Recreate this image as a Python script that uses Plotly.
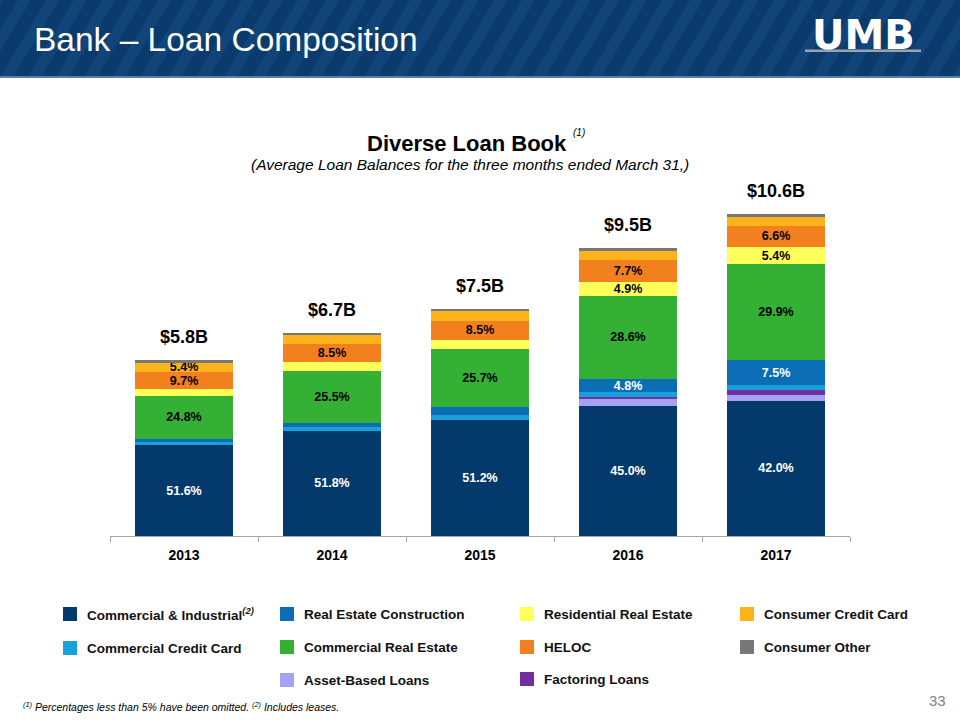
import plotly.graph_objects as go

# ---------------- data ----------------
years = ["2013", "2014", "2015", "2016", "2017"]
totals = [5.8, 6.7, 7.5, 9.5, 10.6]              # $B, average loan balances
total_labels = ["$5.8B", "$6.7B", "$7.5B", "$9.5B", "$10.6B"]

# share of total (%) by loan type, stacked bottom -> top
ci_pct = [51.6, 51.8, 51.2, 45.0, 42.0]            # Commercial & Industrial
abl_pct = [0.0, 0.0, 0.0, 2.4, 2.0]                # Asset-Based Loans
factoring_pct = [0.0, 0.0, 0.0, 1.0, 1.5]          # Factoring Loans
comm_cc_pct = [2.3, 2.0, 1.9, 1.4, 1.6]            # Commercial Credit Card
rec_pct = [1.1, 2.0, 3.4, 4.8, 7.5]                # Real Estate Construction
cre_pct = [24.8, 25.5, 25.7, 28.6, 29.9]           # Commercial Real Estate
res_pct = [3.7, 4.5, 4.0, 4.9, 5.4]                # Residential Real Estate
heloc_pct = [9.7, 8.5, 8.5, 7.7, 6.6]              # HELOC
cons_cc_pct = [5.4, 4.4, 4.2, 3.2, 2.7]            # Consumer Credit Card
cons_other_pct = [1.4, 1.3, 1.1, 1.0, 0.8]         # Consumer Other

LABEL_MIN = 4.8   # smaller shares are not labelled

series = [
    ("Commercial & Industrial", ci_pct, "#033A6B", "white"),
    ("Asset-Based Loans", abl_pct, "#A6A1F5", "black"),
    ("Factoring Loans", factoring_pct, "#7030A0", "white"),
    ("Commercial Credit Card", comm_cc_pct, "#199FD9", "black"),
    ("Real Estate Construction", rec_pct, "#0B6DB6", "white"),
    ("Commercial Real Estate", cre_pct, "#34B034", "black"),
    ("Residential Real Estate", res_pct, "#FFFF5A", "black"),
    ("HELOC", heloc_pct, "#F3801F", "black"),
    ("Consumer Credit Card", cons_cc_pct, "#FDB41A", "black"),
    ("Consumer Other", cons_other_pct, "#777777", "black"),
]

# ---------------- geometry helpers ----------------
W, H = 960, 720
ML, MR, MT, MB = 110, 110, 172, 184
PW, PH = W - ML - MR, H - MT - MB
FONT = "Liberation Sans, Arial, sans-serif"


def fx(x):
    return (x - ML) / PW


def fy(y):
    return (H - MB - y) / PH


fig = go.Figure()

for name, pct, color, tcolor in series:
    fig.add_trace(go.Bar(
        x=years,
        y=[p / 100.0 * t for p, t in zip(pct, totals)],
        name=name,
        marker=dict(color=color, line=dict(width=0)),
        text=[f"{p:.1f}%" if p >= LABEL_MIN else "" for p in pct],
        textposition="inside",
        insidetextanchor="middle",
        textangle=0,
        textfont=dict(family=FONT, size=12.5, color=tcolor, weight="bold"),
        hoverinfo="skip",
        showlegend=False,
    ))

annotations = []
for i, (tot, lab) in enumerate(zip(totals, total_labels)):
    annotations.append(dict(
        x=i, y=tot, xref="x", yref="y", text=lab, showarrow=False,
        yanchor="bottom", yshift=11,
        font=dict(family=FONT, size=18, color="black", weight="bold"),
    ))

shapes = []
# header band with diagonal stripes
shapes.append(dict(type="rect", xref="paper", yref="paper",
                   x0=fx(-5), x1=fx(W + 5), y0=fy(77), y1=fy(-2),
                   fillcolor="#0A3B6C", line=dict(width=0), layer="below"))
for k in range(-4, 40):
    xb = k * 28
    path = (f"M {fx(xb)},{fy(77)} L {fx(xb + 13)},{fy(77)} "
            f"L {fx(xb + 13 + 46)},{fy(0)} L {fx(xb + 46)},{fy(0)} Z")
    shapes.append(dict(type="path", xref="paper", yref="paper", path=path,
                       fillcolor="#14497D", opacity=0.7, line=dict(width=0),
                       layer="below"))
shapes.append(dict(type="line", xref="paper", yref="paper",
                   x0=fx(0), x1=fx(W), y0=fy(77), y1=fy(77),
                   line=dict(color="#5A7FA6", width=2)))
# logo underline
shapes.append(dict(type="rect", xref="paper", yref="paper",
                   x0=fx(805), x1=fx(921), y0=fy(52), y1=fy(49.5),
                   fillcolor="#9AA4AF", line=dict(width=0)))

# header texts
annotations.append(dict(xref="paper", yref="paper", x=fx(32), y=fy(40),
                        xanchor="left", yanchor="middle", showarrow=False,
                        text="Bank – Loan Composition",
                        font=dict(family=FONT, size=33.5, color="white")))
annotations.append(dict(xref="paper", yref="paper", x=fx(863), y=fy(35),
                        xanchor="center", yanchor="middle", showarrow=False,
                        text="UMB",
                        font=dict(family="DejaVu Sans", size=40, color="white",
                                  weight="bold")))

# chart titles
annotations.append(dict(xref="paper", yref="paper", x=fx(467), y=fy(143),
                        xanchor="center", yanchor="middle", showarrow=False,
                        text="Diverse Loan Book",
                        font=dict(family=FONT, size=22, color="black", weight="bold")))
annotations.append(dict(xref="paper", yref="paper", x=fx(571), y=fy(133),
                        xanchor="left", yanchor="middle", showarrow=False,
                        text="<i>(1)</i>",
                        font=dict(family=FONT, size=10, color="black")))
annotations.append(dict(xref="paper", yref="paper", x=fx(470), y=fy(164),
                        xanchor="center", yanchor="middle", showarrow=False,
                        text="<i>(Average Loan Balances for the three months ended March 31,)</i>",
                        font=dict(family=FONT, size=15.5, color="black")))

# custom legend (square + label), positions in pixels
legend_layout = {
    "Commercial & Industrial": (70, 614, "Commercial & Industrial<sup><i>(2)</i></sup>"),
    "Commercial Credit Card": (70, 648, "Commercial Credit Card"),
    "Real Estate Construction": (287, 614, "Real Estate Construction"),
    "Commercial Real Estate": (287, 647, "Commercial Real Estate"),
    "Asset-Based Loans": (287, 680, "Asset-Based Loans"),
    "Residential Real Estate": (527, 614, "Residential Real Estate"),
    "HELOC": (527, 647, "HELOC"),
    "Factoring Loans": (527, 679, "Factoring Loans"),
    "Consumer Credit Card": (747, 614, "Consumer Credit Card"),
    "Consumer Other": (747, 647, "Consumer Other"),
}
for name, pct, color, tcolor in series:
    cx, cy, label = legend_layout[name]
    shapes.append(dict(type="rect", xref="paper", yref="paper",
                       x0=fx(cx - 7), x1=fx(cx + 7), y0=fy(cy + 7), y1=fy(cy - 7),
                       fillcolor=color, line=dict(width=0)))
    annotations.append(dict(xref="paper", yref="paper", x=fx(cx + 15), y=fy(cy),
                            xanchor="left", yanchor="middle", showarrow=False,
                            text=label,
                            font=dict(family=FONT, size=13.5, color="#111111",
                                      weight="bold")))

# footnote & page number
annotations.append(dict(xref="paper", yref="paper", x=fx(21), y=fy(706),
                        xanchor="left", yanchor="middle", showarrow=False,
                        text="<i><sup>(1)</sup> Percentages less than 5% have been omitted. "
                             "<sup>(2)</sup> Includes leases.</i>",
                        font=dict(family=FONT, size=10.5, color="black")))
annotations.append(dict(xref="paper", yref="paper", x=fx(948), y=fy(700),
                        xanchor="right", yanchor="middle", showarrow=False,
                        text="33",
                        font=dict(family=FONT, size=15, color="#7F7F7F")))

fig.update_layout(
    width=W, height=H,
    margin=dict(l=ML, r=MR, t=MT, b=MB, pad=0),
    barmode="stack",
    bargap=0.338,
    plot_bgcolor="white",
    paper_bgcolor="white",
    showlegend=False,
    uniformtext=dict(minsize=12.5, mode="show"),
    annotations=annotations,
    shapes=shapes,
    xaxis=dict(
        type="category",
        range=[-0.5, len(years) - 0.5],
        showline=True, linecolor="#A6A6A6", linewidth=1,
        ticks="outside", tickson="boundaries", ticklen=5, tickcolor="#A6A6A6",
        ticklabelstandoff=6,
        showgrid=False,
        tickfont=dict(family=FONT, size=14, color="black", weight="bold"),
        fixedrange=True,
    ),
    yaxis=dict(visible=False, range=[0, 12], fixedrange=True),
)

fig.write_html("out.html", config={"displayModeBar": False},
               post_script="document.body.style.margin='0';")
